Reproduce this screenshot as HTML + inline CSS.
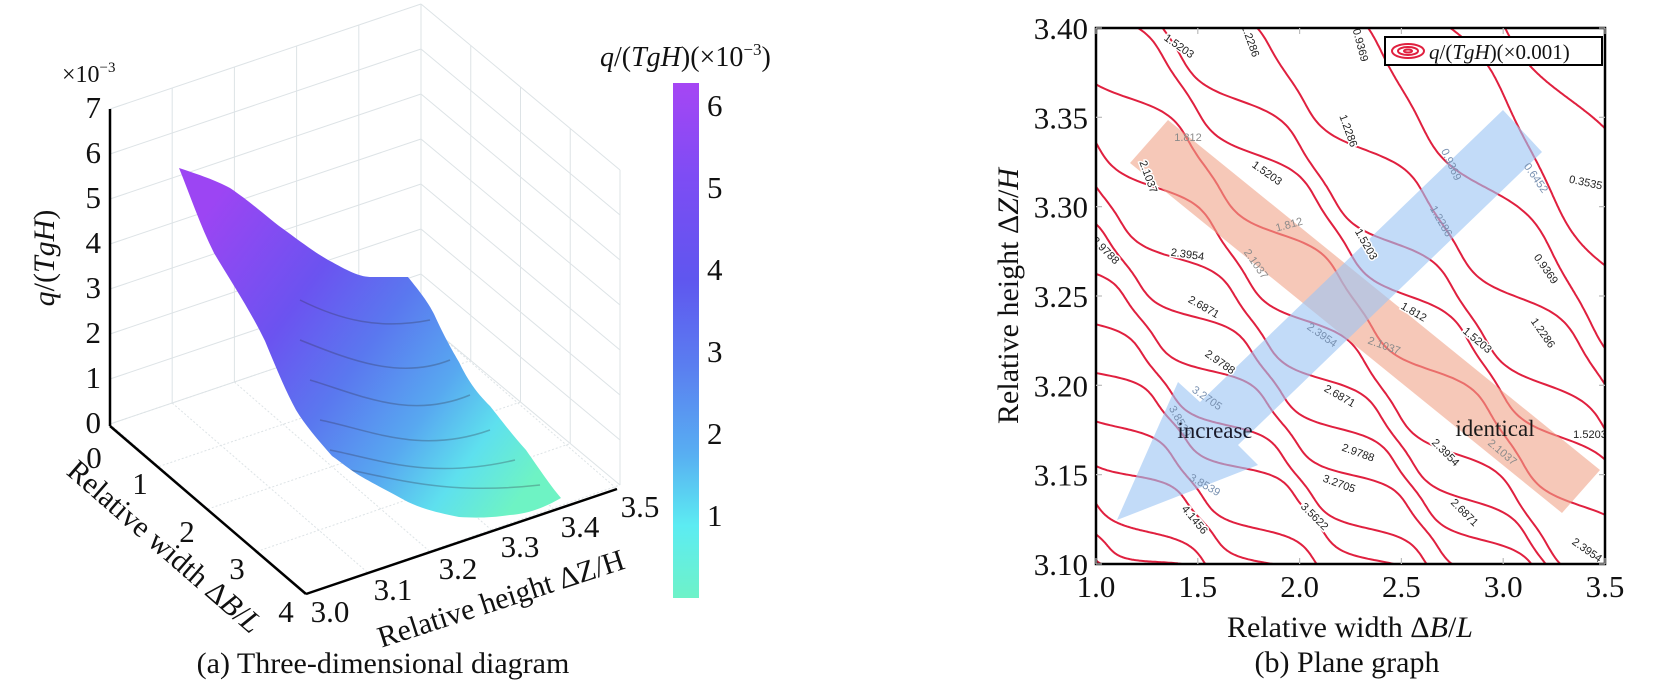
<!DOCTYPE html>
<html><head><meta charset="utf-8">
<style>
html,body{margin:0;padding:0;background:#fff;}
svg{display:block;}
.tk{font-family:"Liberation Serif",serif;font-size:31px;fill:#111;}
.lb{font-family:"Liberation Serif",serif;font-size:30px;fill:#111;}
.cl{font-family:"Liberation Sans",sans-serif;font-size:11px;fill:#222;paint-order:stroke;stroke:#fff;stroke-width:3px;}
.cg{font-family:"Liberation Sans",sans-serif;font-size:11px;fill:#8a8a8a;}
.cb{font-family:"Liberation Sans",sans-serif;font-size:11px;fill:#7890b0;}
</style></head><body>
<svg id="s" width="1655" height="682" viewBox="0 0 1655 682" xmlns="http://www.w3.org/2000/svg">
<defs>
<linearGradient id="cbar" x1="0" y1="0" x2="0" y2="1">
<stop offset="0" stop-color="#a646f4"/>
<stop offset="0.18" stop-color="#7e4cf4"/>
<stop offset="0.38" stop-color="#5f56ef"/>
<stop offset="0.55" stop-color="#5a7ef0"/>
<stop offset="0.72" stop-color="#58aef2"/>
<stop offset="0.86" stop-color="#5cecf2"/>
<stop offset="1" stop-color="#6ef2c8"/>
</linearGradient>
<linearGradient id="surf" gradientUnits="userSpaceOnUse" x1="200" y1="220" x2="540" y2="470">
<stop offset="0" stop-color="#9c45f3"/>
<stop offset="0.3" stop-color="#6b53f0"/>
<stop offset="0.5" stop-color="#5a78ef"/>
<stop offset="0.7" stop-color="#58a8f0"/>
<stop offset="0.85" stop-color="#5ee0ee"/>
<stop offset="1" stop-color="#6ef3c4"/>
</linearGradient>
<clipPath id="frame"><rect x="1096" y="28" width="509" height="536"/></clipPath>
<clipPath id="surfclip"><path d="M179,168 C200,175 215,180 230,188 C255,205 270,220 286,231 C305,245 320,256 332,262 C350,272 360,277 372,277 L408,277 C420,292 428,302 434,314 C445,338 452,350 459,362 C470,385 480,396 490,406 C505,425 515,438 526,450 C540,470 550,485 561,498 C540,510 525,514 510,515 C490,518 475,518 459,517 C440,513 425,510 408,502 C390,492 370,482 357,474 C345,466 338,460 332,456 C318,440 305,425 296,410 C285,390 275,365 265,341 C250,310 230,280 214,253 C200,225 190,195 179,168 Z"/></clipPath>
</defs>

<g stroke="#dde3e6" stroke-width="1" fill="none" id="grid3d"></g>
<g clip-path="url(#surfclip)">
<rect x="170" y="160" width="400" height="370" fill="url(#surf)"/>
<g stroke="#334" stroke-opacity="0.3" stroke-width="1.5" fill="none">
<path d="M300,300 C340,320 380,330 430,320"/>
<path d="M300,340 C350,360 400,380 450,360"/>
<path d="M310,380 C360,395 410,420 470,395"/>
<path d="M320,420 C370,430 420,455 490,430"/>
<path d="M330,450 C380,460 430,480 515,460"/>
<path d="M350,470 C400,480 450,495 540,485"/>
</g>
</g>
<g stroke="#000" stroke-width="2.5" fill="none">
<line x1="110" y1="109" x2="110" y2="426"/>
<line x1="110" y1="426" x2="306" y2="594"/>
<line x1="306" y1="594" x2="617" y2="489"/>
</g>
<g class="tk" text-anchor="end">
<text x="101" y="118">7</text><text x="101" y="163">6</text><text x="101" y="208">5</text><text x="101" y="253">4</text><text x="101" y="298">3</text><text x="101" y="343">2</text><text x="101" y="388">1</text><text x="101" y="433">0</text>
</g>
<text x="62" y="82" class="tk" style="font-size:24px">×10<tspan dy="-10" style="font-size:15px">−3</tspan></text>
<text class="tk" text-anchor="middle" x="94" y="468">0</text>
<text class="tk" text-anchor="middle" x="140" y="494">1</text>
<text class="tk" text-anchor="middle" x="187" y="542">2</text>
<text class="tk" text-anchor="middle" x="237" y="579">3</text>
<text class="tk" text-anchor="middle" x="286" y="622">4</text>
<text class="tk" text-anchor="middle" x="330" y="622">3.0</text>
<text class="tk" text-anchor="middle" x="393" y="600">3.1</text>
<text class="tk" text-anchor="middle" x="458" y="579">3.2</text>
<text class="tk" text-anchor="middle" x="520" y="557">3.3</text>
<text class="tk" text-anchor="middle" x="580" y="537">3.4</text>
<text class="tk" text-anchor="middle" x="640" y="517">3.5</text>
<text class="lb" transform="translate(54,258) rotate(-90)" text-anchor="middle"><tspan font-style="italic">q</tspan>/(<tspan font-style="italic">TgH</tspan>)</text>
<text class="lb" transform="translate(158,554) rotate(41)" text-anchor="middle">Relative width Δ<tspan font-style="italic">B</tspan>/<tspan font-style="italic">L</tspan></text>
<text class="lb" transform="translate(504,608) rotate(-18)" text-anchor="middle">Relative height ΔZ/H</text>
<text class="lb" x="383" y="673" text-anchor="middle">(a) Three-dimensional diagram</text>
<rect x="673" y="83" width="26" height="515" fill="url(#cbar)"/>
<g class="tk">
<text x="707" y="116">6</text><text x="707" y="198">5</text><text x="707" y="280">4</text><text x="707" y="362">3</text><text x="707" y="444">2</text><text x="707" y="526">1</text>
</g>
<text x="600" y="66" class="lb" style="font-size:28px"><tspan font-style="italic">q</tspan>/(<tspan font-style="italic">TgH</tspan>)(×10<tspan dy="-11" style="font-size:17px">−3</tspan><tspan dy="11">)</tspan></text>

<g clip-path="url(#frame)">
<g id="contours" stroke="#e0203f" stroke-width="2" fill="none"></g>
<polygon points="1130,163 1168,120 1600,470 1562,513" fill="#f0a488" fill-opacity="0.6"/>
<polygon points="1503,110 1542,152 1238,445 1258,465 1117,520 1178,382 1200,402" fill="#9cc5f4" fill-opacity="0.62"/>
<g id="clabels"></g>
</g>
<rect x="1096" y="28" width="509" height="536" fill="none" stroke="#000" stroke-width="2.5"/>
<g stroke="#bbb" stroke-width="1.2" id="ticks2"></g>
<text x="1215" y="438" text-anchor="middle" style="font-family:'Liberation Serif',serif;font-size:23px;fill:#1a1a2a">increase</text>
<text x="1495" y="436" text-anchor="middle" style="font-family:'Liberation Serif',serif;font-size:23px;fill:#1a1a1a">identical</text>
<rect x="1385" y="37" width="217" height="28" fill="#fff" stroke="#000" stroke-width="2"/>
<g fill="none" stroke="#e0203f" stroke-width="2">
<ellipse cx="1408" cy="51" rx="16" ry="7"/><ellipse cx="1408" cy="51" rx="10" ry="4"/><ellipse cx="1408" cy="51" rx="4" ry="1.5"/>
</g>
<text x="1429" y="59" style="font-family:'Liberation Serif',serif;font-size:21px;fill:#111"><tspan font-style="italic">q</tspan>/(<tspan font-style="italic">TgH</tspan>)(×0.001)</text>
<g class="tk" text-anchor="end" id="ylab2"></g>
<g class="tk" text-anchor="middle" id="xlab2"></g>
<text class="lb" x="1350" y="637" text-anchor="middle">Relative width Δ<tspan font-style="italic">B</tspan>/<tspan font-style="italic">L</tspan></text>
<text class="lb" x="1347" y="672" text-anchor="middle">(b) Plane graph</text>
<text class="lb" transform="translate(1018,296) rotate(-90)" text-anchor="middle">Relative height Δ<tspan font-style="italic">Z</tspan>/<tspan font-style="italic">H</tspan></text>
</svg>
<script>
(function(){
var NS="http://www.w3.org/2000/svg";
function el(p,t,a,txt){var e=document.createElementNS(NS,t);for(var k in a)e.setAttribute(k,a[k]);if(txt!==undefined)e.textContent=txt;p.appendChild(e);return e;}
var g=document.getElementById('grid3d');
for(var k=0;k<=7;k++){var d=45*k;
 el(g,'line',{x1:110,y1:424-d,x2:421,y2:319-d});
 el(g,'line',{x1:421,y1:319-d,x2:620,y2:485-d});}
[0,0.2,0.4,0.6,0.8,1].forEach(function(f){var x=110+311*f,y=424-105*f;el(g,'line',{x1:x,y1:y,x2:x,y2:y-315});
 el(g,'line',{x1:x,y1:y,x2:x+196,y2:y+170,'stroke-dasharray':'2,2'});});
[0,0.25,0.5,0.75,1].forEach(function(f){var x=421+199*f,y=319+166*f;el(g,'line',{x1:x,y1:y,x2:x,y2:y-315});
 el(g,'line',{x1:110+196*f,y1:424+170*f,x2:x,y2:y,'stroke-dasharray':'2,2'});});
var t2=document.getElementById('ticks2'),yl=document.getElementById('ylab2'),xl=document.getElementById('xlab2');
var yv=['3.40','3.35','3.30','3.25','3.20','3.15','3.10'];
for(var i=0;i<7;i++){var y=28+89.33*i;el(t2,'line',{x1:1096,y1:y,x2:1102,y2:y});el(t2,'line',{x1:1605,y1:y,x2:1599,y2:y});el(yl,'text',{x:1088,y:y+11},yv[i]);}
var xv=['1.0','1.5','2.0','2.5','3.0','3.5'];
for(var i=0;i<6;i++){var x=1096+101.8*i;el(t2,'line',{x1:x,y1:564,x2:x,y2:558});el(t2,'line',{x1:x,y1:28,x2:x,y2:34});el(xl,'text',{x:x,y:597},xv[i]);}
var lines=[
[[1520,28],[1605,150]],[[1443,28],[1605,253]],[[1350,28],[1605,327]],[[1238,28],[1605,380]],
[[1162,28],[1605,440]],[[1120,28],[1605,478]],[[1096,68],[1605,527]],[[1096,134],[1580,564]],
[[1096,191],[1547,564]],[[1096,240],[1513,564]],[[1096,286],[1473,564]],[[1096,329],[1417,564]],
[[1096,370],[1383,564]],[[1096,411],[1307,564]],[[1096,452],[1270,564]],[[1096,493],[1193,564]],
[[1096,534],[1163,564]],[[1080,560],[1120,570]]];
var cg=document.getElementById('contours');
lines.forEach(function(L){var S=L[0],E=L[1];
 var dx=E[0]-S[0],dy=E[1]-S[1],h=Math.hypot(dx,dy);
 var x0=S[0]-40*dx/h,y0=S[1]-40*dy/h,x1=E[0]+40*dx/h,y1=E[1]+40*dy/h;
 var pts=[];for(var i=0;i<=220;i++){var t=i/220;var bx=x0+(x1-x0)*t,by=y0+(y1-y0)*t;
  var ph=2*Math.PI*(bx-0.3*by)/110;var off=13*(Math.sin(ph)+0.25*Math.sin(2*ph));
  pts.push((bx+off).toFixed(1)+','+(by-off*0.35).toFixed(1));}
 el(cg,'polyline',{points:pts.join(' ')});});
var labs=[
['1.5203',1177,46,35,'cl'],['1.2286',1247,39,70,'cl'],['0.9369',1357,43,75,'cl'],['1.812',1188,138,0,'cg'],
['2.1037',1145,175,70,'cl'],['1.5203',1265,173,35,'cl'],['1.2286',1345,129,70,'cl'],['0.9369',1448,163,65,'cb'],
['1.812',1290,225,-15,'cg'],['1.5203',1363,243,60,'cl'],['2.3954',1187,255,8,'cl'],['2.1037',1253,263,55,'cg'],
['1.2286',1438,220,60,'cb'],['2.9788',1103,250,45,'cl'],['2.6871',1202,307,30,'cl'],['1.812',1412,312,30,'cl'],
['1.5203',1475,340,40,'cl'],['2.3954',1320,335,35,'cb'],['2.1037',1383,346,20,'cg'],['2.9788',1218,362,35,'cl'],
['3.2705',1205,398,35,'cb'],['2.6871',1338,396,30,'cl'],['3.8539',1177,420,60,'cb'],['2.9788',1357,453,20,'cl'],
['2.3954',1443,452,45,'cl'],['3.2705',1338,484,20,'cl'],['3.8539',1203,485,30,'cb'],['4.1456',1192,519,50,'cl'],
['3.5622',1312,516,45,'cl'],['2.6871',1462,512,45,'cl'],['0.6452',1533,177,55,'cb'],['0.3535',1585,183,12,'cl'],
['0.9369',1543,268,55,'cl'],['1.2286',1540,332,55,'cl'],['1.5203',1590,435,0,'cl'],['2.1037',1500,452,40,'cg'],
['2.3954',1585,550,35,'cl']];
var cl=document.getElementById('clabels');
labs.forEach(function(a){el(cl,'text',{'class':a[4],'text-anchor':'middle',transform:'translate('+a[1]+','+(a[2]+3)+') rotate('+a[3]+')'},a[0]);});
})();
</script>
</body></html>
